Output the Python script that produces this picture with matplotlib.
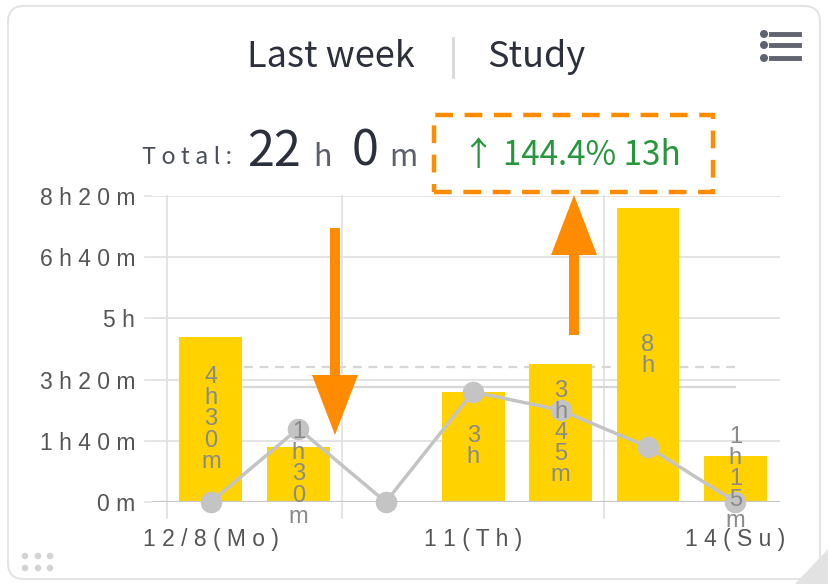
import numpy as np
import matplotlib.pyplot as plt
from matplotlib.patches import FancyBboxPatch, Rectangle, Polygon, Circle
from matplotlib.transforms import IdentityTransform

# Podaci (minuti po danu)
days = ['8(Mo)', '9(Tu)', '10(We)', '11(Th)', '12(Fr)', '13(Sa)', '14(Su)']
this_week = [270, 90, 0, 180, 225, 480, 75]
prev_week = [0, 120, 0, 180, 150, 90, 0]
bar_labels = ['4h30m', '1h30m', '', '3h', '3h45m', '8h', '1h15m']
xtick_pos = [0, 3, 6]
xtick_labels = ['12/8(Mo)', '11(Th)', '14(Su)']
ytick_vals = [0, 100, 200, 300, 400, 500]
ytick_labels = ['0m', '1h40m', '3h20m', '5h', '6h40m', '8h20m']

W, H = 829, 584
fig = plt.figure(figsize=(W / 100, H / 100), dpi=100)
fig.patch.set_facecolor('white')
ID = IdentityTransform()


def P(x, y):
    # pikseli slike (gore-levo) -> display koordinate
    return (x, H - y)


def spaced(s):
    return ' '.join(s)


# kartica
card = FancyBboxPatch(P(8, 579), 812, 573, boxstyle='round,pad=0,rounding_size=16',
                      transform=ID, facecolor='white', edgecolor='#e4e4e6', lw=1.5, zorder=-5)
fig.add_artist(card)

# ugao dole desno
fig.add_artist(Polygon([P(829, 548), P(829, 584), P(795, 584)], closed=True,
                       transform=ID, facecolor='#e2e2e2', edgecolor='none', zorder=-4))

# grafik
ax = fig.add_axes([152 / W, (H - 502) / H, 628 / W, 306 / H])
ax.set_facecolor('none')
x = np.arange(len(days))
ax.set_xlim(-0.674, 6.51)
ax.set_ylim(0, 500)
for v in ytick_vals[1:]:
    ax.axhline(v, color='#e2e2e2', lw=1.3, zorder=0)
ax.axhline(0, color='#c8c8c8', lw=1.6, zorder=3)
for xv in [-0.5, 1.5, 4.5]:
    ax.plot([xv, xv], [-26, 500], color='#e2e2e2', lw=1.3, zorder=0, clip_on=False)

ax.bar(x, this_week, width=0.72, color='#FFD200', zorder=2)

avg_all = sum(this_week) / len(this_week)
avg_study = sum(this_week) / sum(1 for v in this_week if v > 0)
ax.plot([0.38, 6.0], [avg_study, avg_study], color='#d6d6d6', lw=1.6, ls=(0, (4, 3)), zorder=1)
ax.plot([0.38, 6.0], [avg_all, avg_all], color='#d6d6d6', lw=1.6, zorder=1)

ax.plot(x, prev_week, color='#c4c4c4', lw=2.5, marker='o', ms=14.5,
        markerfacecolor='#c4c4c4', markeredgecolor='#c4c4c4', zorder=4, clip_on=False)

for xi, v, lab in zip(x, this_week, bar_labels):
    if lab:
        ax.text(xi, v / 2, '\n'.join(lab), ha='center', va='center', fontsize=17,
                color='#8a8a8a', linespacing=0.95, family='Liberation Sans', zorder=5)

ax.set_xticks(xtick_pos)
ax.set_xticklabels([spaced(s) for s in xtick_labels], fontsize=16.5, color='#555555',
                   family='Liberation Sans')
ax.set_yticks(ytick_vals)
ax.set_yticklabels([spaced(s) for s in ytick_labels], fontsize=16.5, color='#555555',
                   family='Liberation Sans')
ax.tick_params(axis='x', length=0, pad=19)
ax.tick_params(axis='y', length=6, width=1.2, color='#e2e2e2', pad=6)
for s in ax.spines.values():
    s.set_visible(False)

# naslov
fig.text(331 / W, 1 - 57 / H, 'Last week', ha='center', va='center', fontsize=26,
         color='#2b303b', family='Noto Sans CJK JP')
fig.text(536 / W, 1 - 57 / H, 'Study', ha='center', va='center', fontsize=26,
         color='#2b303b', family='Noto Sans CJK JP')
fig.add_artist(plt.Line2D([453, 453], [H - 38, H - 77], transform=ID, color='#d8d8d8', lw=2))

# meni ikonica
for yy in [34, 45, 58]:
    fig.add_artist(Circle(P(764, yy), 3.3, transform=ID, color='#5f6370'))
    fig.add_artist(plt.Line2D([771, 799], [H - yy, H - yy], transform=ID, color='#5f6370', lw=3.5))

# tackice dole levo
for xx in [25, 38, 50]:
    for yy in [556, 568]:
        fig.add_artist(Circle(P(xx, yy), 2.6, transform=ID, color='#d4d4d4'))

# ukupno
fig.text(187 / W, 1 - 157 / H, 'T o t a l :', ha='center', va='center', fontsize=17,
         color='#4a4f5a', family='Noto Sans CJK JP')
fig.text(274 / W, 1 - 152 / H, '22', ha='center', va='center', fontsize=35,
         color='#2b303b', family='Noto Sans CJK JP')
fig.text(323 / W, 1 - 157 / H, 'h', ha='center', va='center', fontsize=22,
         color='#5a5f6a', family='Noto Sans CJK JP')
fig.text(365 / W, 1 - 152 / H, '0', ha='center', va='center', fontsize=35,
         color='#2b303b', family='Noto Sans CJK JP')
fig.text(403 / W, 1 - 157 / H, 'm', ha='center', va='center', fontsize=22,
         color='#5a5f6a', family='Noto Sans CJK JP')
fig.text(571 / W, 1 - 156 / H, '\u2191 144.4% 13h', ha='center', va='center', fontsize=24,
         color='#27963c', family=['Noto Sans CJK JP', 'DejaVu Sans'])

# narandzasti okvir i strelice
orange = '#FF8C00'
fig.add_artist(Rectangle(P(434, 192), 279, 77, transform=ID, fill=False,
                         edgecolor=orange, lw=3.2, ls=(0, (4, 2.6))))
fig.add_artist(Polygon([P(330, 228), P(340, 228), P(340, 375), P(358, 375), P(335, 435),
                        P(312, 375), P(330, 375)], closed=True, transform=ID,
                       facecolor=orange, edgecolor='none'))
fig.add_artist(Polygon([P(569, 335), P(579, 335), P(579, 255), P(597, 255), P(574, 195),
                        P(551, 255), P(569, 255)], closed=True, transform=ID,
                       facecolor=orange, edgecolor='none'))

fig.savefig('out.png', dpi=100)
